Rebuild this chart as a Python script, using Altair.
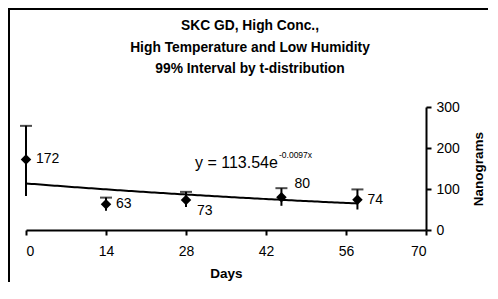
import altair as alt
import pandas as pd

# ---- data ----
days = [0, 14, 28, 44.7, 58]
nanograms = [172, 63, 73, 80, 74]
upper = [254, 79, 93, 102, 99]
lower = [83, 47, 56, 59, 50]
point_labels = ["172", "63", "73", "80", "74"]
x_ticks = [0, 14, 28, 42, 56, 70]
y_ticks = [0, 50, 100, 150, 200, 250, 300]
# trendline as printed on the chart: y = 113.54 e^(-0.0097 x)
trend_a = 113.54
trend_b = -0.0097
eq_main = "y = 113.54e"
eq_exp = "-0.0097x"
title_lines = ["SKC GD, High Conc.,", "High Temperature and Low Humidity",
               "99% Interval by t-distribution"]

df = pd.DataFrame({"Days": days, "Nanograms": nanograms, "upper": upper,
                   "lower": lower, "label": point_labels})

FONT = "Liberation Sans"
W, H = 400, 123
PAD = {"left": 18, "top": 99, "right": 62, "bottom": 52}

xs = alt.Scale(domain=[0, 70], nice=False, zero=False)
ys = alt.Scale(domain=[0, 300], nice=False)

base = alt.Chart(df)

x_enc = alt.X("Days:Q", scale=xs,
              axis=alt.Axis(values=x_ticks, title="Days", grid=False,
                            tickSize=5, tickWidth=2, domainWidth=2,
                            labelPadding=9, labelFontSize=14, labelFont=FONT,
                            titleFont=FONT, titleFontSize=13.5, titleFontWeight="bold",
                            titlePadding=8, domainColor="black", tickColor="black",
                            labelColor="black", titleColor="black"))
y_enc = alt.Y("Nanograms:Q", scale=ys,
              axis=alt.Axis(values=y_ticks, orient="right", title="Nanograms", grid=False,
                            tickSize=5, tickWidth=2, domainWidth=2,
                            labelPadding=5, labelFontSize=14, labelFont=FONT,
                            titleFont=FONT, titleFontSize=13.5, titleFontWeight="bold",
                            titleAngle=270, titlePadding=26, domainColor="black",
                            tickColor="black", labelColor="black", titleColor="black"))

# outer frame (only left/top edges visible, as in the reference)
frame = base.mark_rect(fill=None, stroke="black", strokeWidth=2).encode(
    x=alt.value(-17), y=alt.value(-98), x2=alt.value(700), y2=alt.value(500)
)

trend = alt.Chart(alt.sequence(0, max(days) + 0.001, 0.5, as_="Days")).transform_calculate(
    Nanograms=f"{trend_a} * exp({trend_b} * datum.Days)"
).mark_line(color="black", strokeWidth=2).encode(
    x=alt.X("Days:Q", scale=xs), y=alt.Y("Nanograms:Q", scale=ys))

err = base.mark_rule(color="black", strokeWidth=2).encode(
    x=alt.X("Days:Q", scale=xs), y=alt.Y("lower:Q", scale=ys), y2="upper:Q"
)
caps = base.mark_tick(color="black", thickness=2, size=12, orient="horizontal").encode(
    x=alt.X("Days:Q", scale=xs), y=alt.Y("upper:Q", scale=ys)
)

points = base.mark_point(shape="diamond", filled=True, color="black", size=110,
                         opacity=1).encode(x=x_enc, y=y_enc)

txt_kw = dict(font=FONT, fontSize=14, color="black", align="left", baseline="middle")
xy = dict(x=alt.X("Days:Q", scale=xs), y=alt.Y("Nanograms:Q", scale=ys), text="label:N")
lab_a = base.transform_filter(alt.FieldOneOfPredicate(field="label", oneOf=["172", "63", "74"])) \
    .mark_text(dx=10, **txt_kw).encode(**xy)
lab_b = base.transform_filter(alt.FieldEqualPredicate(field="label", equal="73")) \
    .mark_text(dx=11, dy=11, **txt_kw).encode(**xy)
lab_c = base.transform_filter(alt.FieldEqualPredicate(field="label", equal="80")) \
    .mark_text(dx=13, dy=-13, **txt_kw).encode(**xy)

eq1 = alt.Chart(pd.DataFrame({"t": [eq_main]})).mark_text(
    font=FONT, fontSize=16, color="black", align="left", baseline="middle").encode(
    x=alt.value(169), y=alt.value(56), text="t:N")
eq2 = alt.Chart(pd.DataFrame({"t": [eq_exp]})).mark_text(
    font=FONT, fontSize=8.5, color="black", align="left", baseline="middle").encode(
    x=alt.value(253), y=alt.value(47.5), text="t:N")

title_layers = []
for line, ty in zip(title_lines, [-81.5, -59.5, -38]):
    title_layers.append(
        alt.Chart(pd.DataFrame({"t": [line]})).mark_text(
            font=FONT, fontSize=13.8, fontWeight="bold", color="black",
            align="center", baseline="middle").encode(
            x=alt.value(224), y=alt.value(ty), text="t:N"))

chart = alt.layer(frame, trend, err, caps, points, lab_a, lab_b, lab_c, eq1, eq2,
                  *title_layers).properties(
    width=W, height=H,
    autosize=alt.AutoSizeParams(type="none"),
    padding=PAD,
).configure_view(stroke=None)

chart.save("out.html", embed_options={"renderer": "svg", "actions": False})
